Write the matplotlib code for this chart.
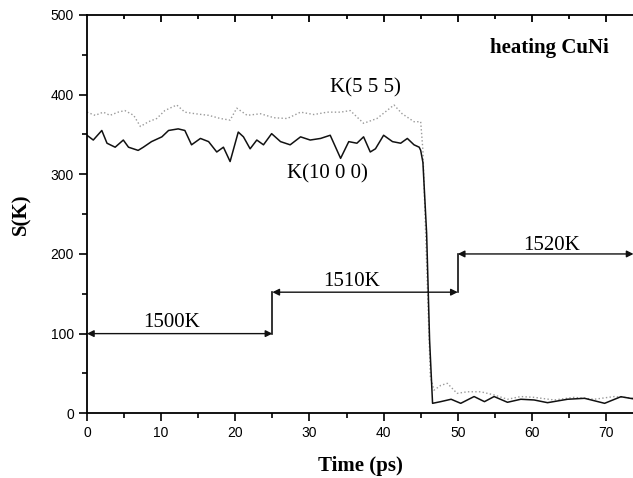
import numpy as np
import matplotlib
matplotlib.use('Agg')
import matplotlib.pyplot as plt
from matplotlib.ticker import MultipleLocator

# K(10 0 0) -- solid black curve
t_100 = [0.0, 0.85, 2.0, 2.7, 3.8, 4.9, 5.6, 6.9, 7.6, 8.7, 10.1, 11.0, 12.3, 13.2,
         14.1, 15.3, 16.4, 17.5, 18.4, 19.3, 20.4, 21.1, 22.0, 22.9, 23.8, 24.9,
         26.1, 27.4, 28.8, 30.1, 31.5, 32.8, 34.2, 35.3, 36.4, 37.3, 38.2, 38.9,
         40.0, 41.2, 42.3, 43.2, 44.1, 44.8, 45.0, 45.3, 45.8, 46.2, 46.6, 47.7,
         49.1, 50.4, 52.2, 53.6, 54.9, 56.7, 58.5, 60.3, 62.1, 64.8, 67.1, 69.8,
         72.0, 74.0]
s_100 = [349, 343, 355, 339, 334, 343, 334, 330, 334, 341, 347, 355, 357, 355,
         337, 345, 341, 328, 334, 316, 353, 347, 332, 343, 337, 351,
         341, 337, 347, 343, 345, 349, 320, 341, 339, 347, 328, 332,
         349, 341, 339, 345, 337, 334, 330, 315, 226, 92, 12.5, 14.6,
         17.6, 12.5, 21, 14.6, 21, 13.8, 17.6, 16.7, 13.3, 17.6, 18.8, 12.5,
         20.8, 17.6]

# K(5 5 5) -- grey dotted curve
t_555 = [0.0, 1.1, 2.2, 3.1, 4.2, 5.1, 6.3, 7.2, 8.3, 9.4, 10.5, 12.1, 13.2, 14.6,
         16.4, 18.0, 19.3, 20.2, 21.6, 23.4, 25.2, 27.0, 28.8, 30.6, 32.4, 34.2,
         35.5, 37.3, 39.1, 41.4, 42.5, 44.1, 45.0, 45.3, 46.3, 46.8, 47.7, 48.6,
         49.9, 51.3, 53.1, 54.9, 56.7, 58.5, 60.3, 63.0, 65.7, 68.4, 71.1, 74.0]
s_555 = [378, 374, 378, 374, 378, 380, 374, 360, 366, 370, 380, 387, 378, 376,
         374, 370, 368, 383, 374, 376, 371, 370, 378, 375, 378, 378,
         380, 364, 370, 387, 376, 366, 366, 330, 46, 29, 35, 37.6,
         25, 27, 27, 23, 17.6, 21, 20, 16.7, 20, 17.6, 21, 18.8]

# temperature schedule
step_t = [0, 25, 50, 73.7]
step_T = [100, 152, 200]
step_lbl = ['1500K', '1510K', '1520K']
lbl_pos = [(11.4, 114), (35.7, 165), (62.6, 210)]

serif = ['Liberation Serif', 'DejaVu Serif']
plt.rcParams['font.family'] = ['Liberation Sans', 'DejaVu Sans']

fig = plt.figure(figsize=(6.33, 4.78), dpi=100)
ax = fig.add_axes([0.1374, 0.1354, 0.8646, 0.8333])

ax.plot(t_555, s_555, color='#9a9a9a', lw=1.0, ls=':')
ax.plot(t_100, s_100, color='#111111', lw=1.1)

# arrows for the temperature steps
for i, T in enumerate(step_T):
    ax.annotate('', xy=(step_t[i + 1], T), xytext=(step_t[i], T),
                arrowprops=dict(arrowstyle='<|-|>', color='#111111', lw=1.0,
                                mutation_scale=10, shrinkA=0, shrinkB=0))
    if i < len(step_T) - 1:
        ax.plot([step_t[i + 1], step_t[i + 1]], [T, step_T[i + 1]],
                color='#111111', lw=1.2)
    ax.text(lbl_pos[i][0], lbl_pos[i][1], step_lbl[i], family=serif,
            fontsize=15, ha='center', va='center')

ax.text(37.6, 408, 'K(5 5 5)', family=serif, fontsize=15, ha='center', va='center')
ax.text(32.4, 301, 'K(10 0 0)', family=serif, fontsize=15, ha='center', va='center')
ax.text(62.3, 458, 'heating CuNi', family=serif, fontsize=15, fontweight='bold',
        ha='center', va='center')

ax.set_xlim(0, 73.8)
ax.set_ylim(0, 500)
ax.xaxis.set_major_locator(MultipleLocator(10))
ax.xaxis.set_minor_locator(MultipleLocator(5))
ax.yaxis.set_major_locator(MultipleLocator(100))
ax.yaxis.set_minor_locator(MultipleLocator(50))

ax.spines['right'].set_visible(False)
for s in ['left', 'bottom', 'top']:
    ax.spines[s].set_linewidth(1.3)
ax.tick_params(which='both', direction='out', labelsize=10, width=1.2, color='black')
ax.tick_params(which='major', length=6)
ax.tick_params(which='minor', length=3.5)

# inward ticks along the top edge, at the same locations as the x ticks
h_ax = ax.get_position().height * fig.get_figheight() * fig.dpi
xmaj = [v for v in ax.xaxis.get_majorticklocs() if 0 < v <= 73.8]
xmin = [v for v in ax.xaxis.get_minorticklocs() if 0 < v <= 73.8]
ax.vlines(xmaj, 1 - 7 / h_ax, 1, transform=ax.get_xaxis_transform(),
          colors='black', lw=1.3, clip_on=False)
ax.vlines(xmin, 1 - 4 / h_ax, 1, transform=ax.get_xaxis_transform(),
          colors='black', lw=1.3, clip_on=False)

ax.set_xlabel('Time (ps)', family=serif, fontsize=15, fontweight='bold', labelpad=11)
ax.set_ylabel('S(K)', family=serif, fontsize=15, fontweight='bold', labelpad=14)

fig.savefig('out.png', dpi=100)
